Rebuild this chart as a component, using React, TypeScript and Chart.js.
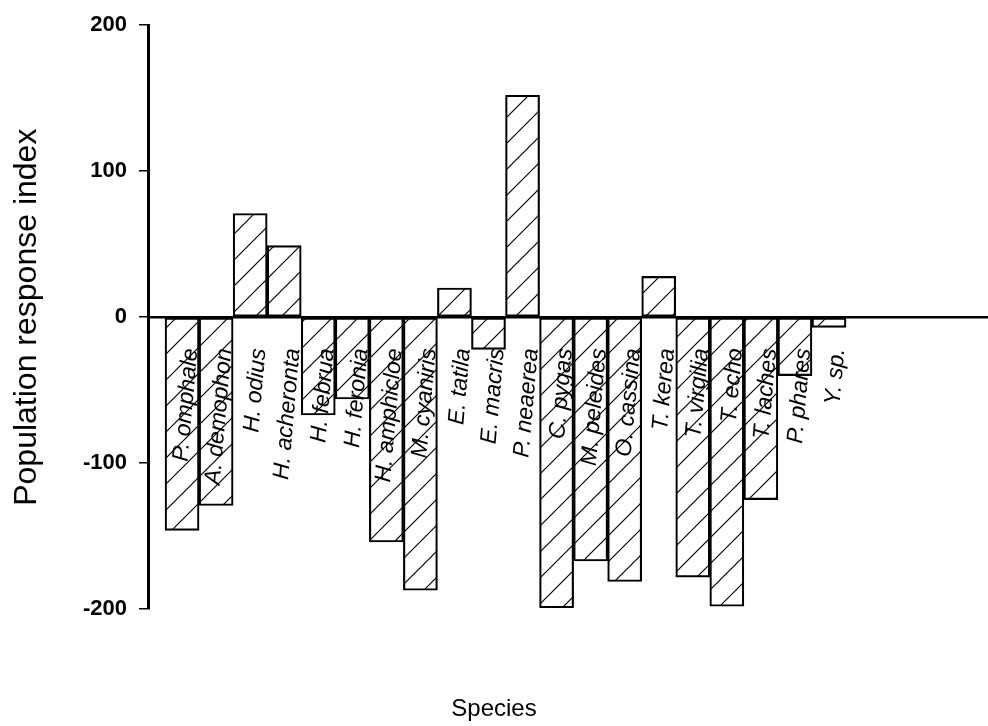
import React, { useEffect, useRef } from 'react';
import { Chart, registerables } from 'chart.js';

Chart.register(...registerables);

const species = [
  'P. omphale', 'A. demophon', 'H. odius', 'H. acheronta', 'H. februa',
  'H. feronia', 'H. amphicloe', 'M. cyaniris', 'E. tatila', 'E. macris',
  'P. neaerea', 'C. pygas', 'M. peleides', 'O. cassina', 'T. kerea',
  'T. virgilia', 'T. echo', 'T. laches', 'P. phares', 'Y. sp.',
];
const responseIndex = [
  -146, -129, 71, 49, -67,
  -56, -154, -187, 20, -22,
  152, -199, -167, -181, 28,
  -178, -198, -125, -40, -7,
];
const yTicks = [-200, -100, 0, 100, 200];

const FONT = '"Liberation Sans", Arial, Helvetica, sans-serif';

export default function App() {
  const ref = useRef<HTMLCanvasElement>(null);

  useEffect(() => {
    const canvas = ref.current;
    if (!canvas) return;
    const tile = document.createElement('canvas');
    tile.width = 26;
    tile.height = 26;
    const t = tile.getContext('2d')!;
    t.strokeStyle = '#000';
    t.lineWidth = 1.2;
    t.beginPath();
    t.moveTo(-2, 28); t.lineTo(28, -2);
    t.moveTo(-2, 2); t.lineTo(2, -2);
    t.moveTo(24, 28); t.lineTo(28, 24);
    t.stroke();
    const pattern = canvas.getContext('2d')!.createPattern(tile, 'repeat')!;

    const chart = new Chart(canvas, {
      type: 'bar',
      data: {
        datasets: [{
          data: responseIndex.map((v, i) => ({ x: i, y: v })),
          backgroundColor: pattern,
          borderColor: '#000',
          borderWidth: 1.5,
          borderSkipped: false,
          barPercentage: 1,
          categoryPercentage: 1,
        }],
      },
      options: {
        responsive: false,
        animation: false,
        layout: { padding: { top: 20, right: 0, left: 0, bottom: 0 } },
        plugins: {
          legend: { display: false },
          tooltip: { enabled: false },
          title: {
            display: true,
            text: 'Species',
            position: 'bottom',
            color: '#000',
            font: { family: FONT, size: 24, weight: 'normal' },
            padding: { top: 86, bottom: 2 },
          },
        },
        scales: {
          x: {
            type: 'linear',
            position: { y: 0 },
            min: -1,
            max: 23.67,
            offset: false,
            z: 1,
            afterFit: (s: any) => { s.paddingLeft = 0; s.paddingRight = 0; },
            grid: { display: false, drawTicks: false, offset: false },
            border: { display: true, color: '#000', width: 2.5 },
            ticks: {
              stepSize: 1,
              autoSkip: false,
              includeBounds: false,
              minRotation: 85,
              maxRotation: 85,
              padding: 30,
              labelOffset: 9,
              color: '#000',
              font: { family: FONT, size: 23, style: 'italic' },
              callback: (v: any) => (Number.isInteger(v) && species[v] !== undefined ? species[v] : ''),
            },
          },
          y: {
            position: 'left',
            min: -200,
            max: 200,
            afterFit: (s: any) => { s.width = 148; },
            afterBuildTicks: (s: any) => { s.ticks = yTicks.map((v) => ({ value: v })); },
            grid: { drawOnChartArea: false, color: '#000', lineWidth: 1.5, tickLength: 9 },
            border: { display: true, color: '#000', width: 3 },
            ticks: {
              padding: 12,
              color: '#000',
              font: { family: FONT, size: 22, weight: 'bold' },
            },
            title: {
              display: true,
              text: 'Population response index',
              color: '#000',
              font: { family: FONT, size: 32, weight: 'normal' },
              padding: { top: 8, bottom: 0 },
            },
          },
        },
      },
    } as any);
    return () => chart.destroy();
  }, []);

  return (
    <canvas
      ref={ref}
      width={988}
      height={726}
      style={{ position: 'absolute', left: 0, top: 0, display: 'block' }}
    />
  );
}
